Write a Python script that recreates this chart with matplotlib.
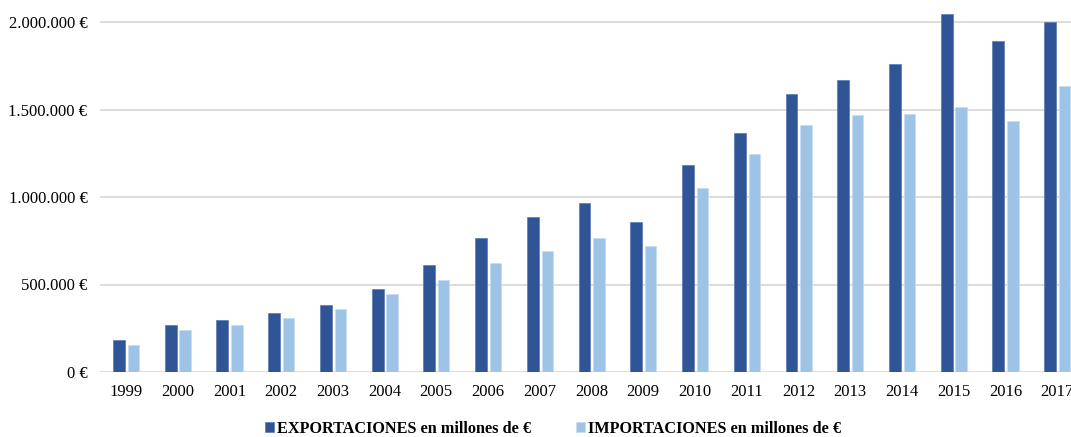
import matplotlib.pyplot as plt
import numpy as np

anios = [str(a) for a in range(1999, 2018)]
exportaciones = [183000, 270000, 295000, 337000, 385000, 474000, 611000, 766000, 886000,
                 966000, 857000, 1183000, 1366000, 1589000, 1669000, 1762000, 2047000,
                 1890000, 2000000]
importaciones = [154000, 242000, 270000, 310000, 358000, 446000, 526000, 623000, 691000,
                 766000, 720000, 1051000, 1246000, 1411000, 1467000, 1474000, 1514000,
                 1433000, 1633000]
ticks_y = [0, 500000, 1000000, 1500000, 2000000]

plt.rcParams['font.family'] = ['Liberation Serif', 'DejaVu Serif']

fig = plt.figure(figsize=(10.71, 4.37), dpi=100)
# el eje se sale por la derecha como en la imagen original (2017 recortado)
ax = fig.add_axes([100/1071, 1 - 372/437, 983/1071, 372/437])

x = np.arange(len(anios))
ax.bar(x - 0.135, exportaciones, 0.23, color='#2F5597', edgecolor='#5A7AB5', linewidth=0.5,
       label='EXPORTACIONES en millones de €', zorder=3)
ax.bar(x + 0.145, importaciones, 0.22, color='#9DC3E6', edgecolor='#C5DCF0', linewidth=0.5,
       label='IMPORTACIONES en millones de €', zorder=3)

ax.set_xlim(-0.5, len(anios) - 0.5)
ax.set_ylim(0, 372/175 * 1e6)
ax.set_xticks(x)
ax.set_xticklabels(anios)
ax.set_yticks(ticks_y)
ax.set_yticklabels([('{:,}'.format(v).replace(',', '.') + ' €') for v in ticks_y])
ax.tick_params(axis='both', length=0, labelsize=12, colors='#000000')
ax.tick_params(axis='y', pad=9)
ax.tick_params(axis='x', pad=9)
ax.grid(axis='y', color='#D9D9D9', linewidth=1.3, zorder=0)
for s in ax.spines.values():
    s.set_visible(False)

fig.legend(loc='center', bbox_to_anchor=(553/1071, 1 - 429/437), ncol=2, frameon=False,
           prop={'weight': 'bold', 'size': 11.7}, handlelength=0.55, handleheight=0.55,
           handletextpad=0.15, columnspacing=2.8)

fig.savefig('out.png', dpi=100)
